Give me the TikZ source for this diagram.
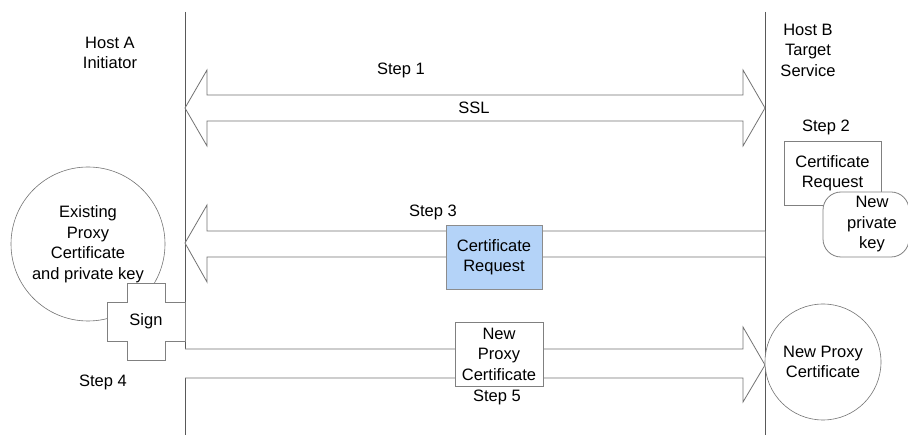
\documentclass[tikz,border=0pt]{standalone}
\usepackage{fontspec}
\setmainfont{Liberation Sans}
\definecolor{reqblue}{RGB}{180,211,248}
\begin{document}
\begin{tikzpicture}[x=1pt,y=-1pt,
  txt/.style={font=\fontsize{16.5}{20.5}\selectfont, align=center, inner sep=0pt},
  lane/.style={draw=black!65, line width=0.8pt},
  blockarrow/.style={draw=black!55, line width=0.8pt, fill=white},
  box/.style={draw=black!50, line width=0.8pt, fill=white, txt, minimum height=64pt},
  reqbox/.style={box, fill=reqblue, draw=black!45},
  blob/.style={draw=black!55, line width=0.6pt, fill=white, circle, txt}
]
\useasboundingbox (0,0) rectangle (908,435);

% host life lines
\coordinate (aTop) at (185,12);
\coordinate (aBot) at (185,435);
\coordinate (bTop) at (765,12);
\coordinate (bBot) at (765,435);
\draw[lane] (aTop) -- (aBot);
\draw[lane] (bTop) -- (bBot);

% host titles
\node[txt] (hostA) at (110,53) {Host A\\Initiator};
\node[txt] (hostB) at (808,50) {Host B\\Target\\Service};

% step 1: SSL, double block arrow
\draw[blockarrow] (185,108) -- (207,70) -- (207,95) -- (743,95) -- (743,70)
  -- (765,108) -- (743,146) -- (743,121) -- (207,121) -- (207,146) -- cycle;
\node[txt] (step1) at (401,70) {Step 1};
\node[txt] (ssl) at (474,108) {SSL};

% step 2 at host B
\node[txt] (step2) at (826,127) {Step 2};
\node[box, minimum width=97pt] (req2) at (832.5,173) {Certificate\\Request};
\node[box, rounded corners=18pt, minimum width=86pt, minimum height=65pt]
  (newkey) at (866,224.5) {\hspace*{12pt}New\\\hspace*{12pt}private\\\hspace*{12pt}key};

% step 3: request sent back to host A
\draw[blockarrow] (765,231) -- (207,231) -- (207,205) -- (185,243) -- (207,282)
  -- (207,257) -- (765,257);
\node[txt] (step3) at (433,212) {Step 3};
\node[reqbox, minimum width=96pt] (req3) at (494,257) {Certificate\\Request};

% host A: existing credentials and signing
\node[blob, minimum size=154pt] (existing) at (88,244) {};
\node[txt] at (existing.center) {Existing\\Proxy\\Certificate\\and private key};
\draw[draw=black!50, line width=0.8pt, fill=white]
  (127,283) -- (165,283) -- (165,302) -- (185,302) -- (185,341) -- (165,341)
  -- (165,360) -- (127,360) -- (127,341) -- (107,341) -- (107,302) -- (127,302) -- cycle;
\node[txt] (sign) at (146,321) {Sign};
\node[txt] (step4) at (103,382) {Step 4};

% step 5: new proxy certificate delivered to host B
\draw[blockarrow] (185,349) -- (743,349) -- (743,327) -- (765,365) -- (743,402)
  -- (743,378) -- (185,378);
\node[box, minimum width=88pt] (newproxy) at (499,354) {New\\Proxy\\Certificate};
\node[txt] (step5) at (497,397) {Step 5};
\node[blob, minimum size=116pt] (result) at (823,362) {};
\node[txt] at (result.center) {New Proxy\\Certificate};
\end{tikzpicture}
\end{document}
